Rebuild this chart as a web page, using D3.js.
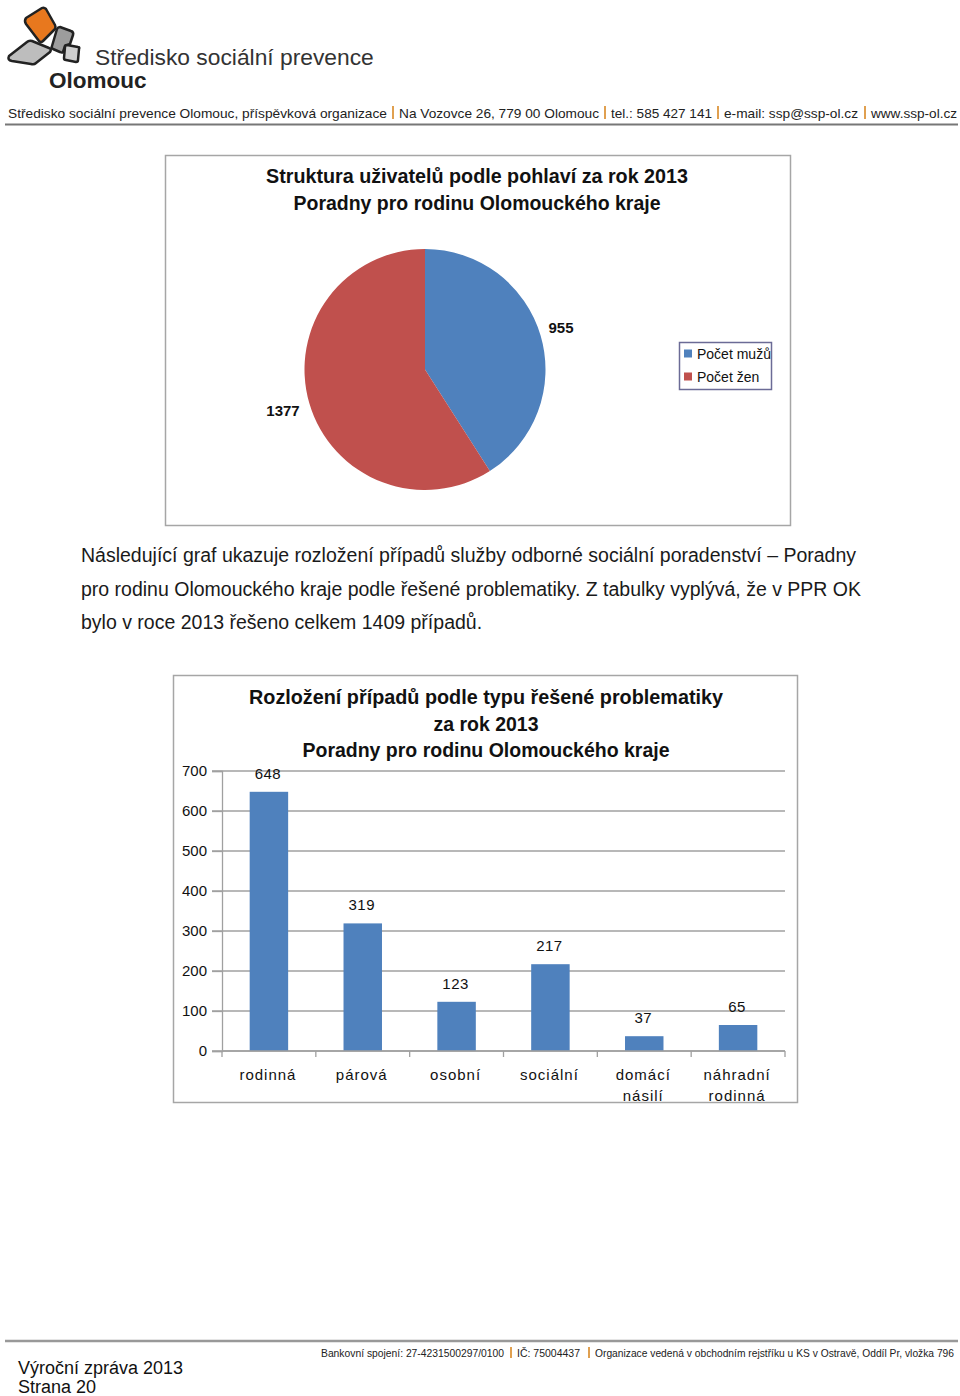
<!DOCTYPE html>
<html><head><meta charset="utf-8">
<script src="https://cdn.jsdelivr.net/npm/d3@7"></script>
<style>body{margin:0;background:#fff}svg{display:block}</style>
</head><body>
<script>
// ---- Data ----
const pieTitle = ["Struktura uživatelů podle pohlaví za rok 2013", "Poradny pro rodinu Olomouckého kraje"];
const pieCategories = ["Počet mužů", "Počet žen"];
const pieValues = [955, 1377];
const pieColors = ["#4f81bd", "#c0504d"];

const barTitle = ["Rozložení případů podle typu řešené problematiky", "za rok 2013", "Poradny pro rodinu Olomouckého kraje"];
const barCategories = [["rodinná"], ["párová"], ["osobní"], ["sociální"], ["domácí", "násilí"], ["náhradní", "rodinná"]];
const barValues = [648, 319, 123, 217, 37, 65];
const yTicks = [0, 100, 200, 300, 400, 500, 600, 700];

const paragraph = [
  "Následující graf ukazuje rozložení případů služby odborné sociální poradenství – Poradny",
  "pro rodinu Olomouckého kraje podle řešené problematiky. Z tabulky vyplývá, že v PPR OK",
  "bylo v roce 2013 řešeno celkem 1409 případů."
];

const W = 960, H = 1396;
const svg = d3.select("body").append("svg").attr("width", W).attr("height", H);
const SANS = "Liberation Sans, Arial, sans-serif";

// ---- Header ----
const logo = svg.append("g");
logo.append("path").attr("d", "M9,56 L27,42 Q29,40 32,41 L49,48 Q52,49 50,52 L36,63 Q34,65 31,64 L12,61 Q7,60 9,56 Z")
  .attr("fill", "#bdbdbd").attr("stroke", "#222").attr("stroke-width", 2.5).attr("stroke-linejoin", "round");
logo.append("path").attr("d", "M26,18 L42,8 Q44,7 46,9 L55,25 Q56,27 55,29 L43,41 Q41,43 39,41 L26,24 Q24,21 26,18 Z")
  .attr("fill", "#e8781e").attr("stroke", "#222").attr("stroke-width", 2.5).attr("stroke-linejoin", "round");
logo.append("path").attr("d", "M60,27 L71,31 Q74,32 73,35 L70,44 L65,46 L63,52 Q62,53 60,52 L53,49 Q51,48 52,46 L57,29 Q58,27 60,27 Z")
  .attr("fill", "#9d9d9d").attr("stroke", "#222").attr("stroke-width", 2.5).attr("stroke-linejoin", "round");
logo.append("path").attr("d", "M67,45 L78,47 Q80,47 79,49 L78,60 Q78,62 76,62 L66,60 Q64,60 64,58 L65,47 Q65,45 67,45 Z")
  .attr("fill", "#cfcfcf").attr("stroke", "#222").attr("stroke-width", 2.5).attr("stroke-linejoin", "round");

svg.append("text").attr("x", 95).attr("y", 65).attr("font-family", SANS).attr("font-size", 22.8)
  .attr("fill", "#333").text("Středisko sociální prevence");
svg.append("text").attr("x", 49).attr("y", 88).attr("font-family", SANS).attr("font-size", 22.5)
  .attr("font-weight", "bold").attr("fill", "#222").text("Olomouc");

// header contact line: parts with orange separators
const headerParts = [
  ["Středisko sociální prevence Olomouc, příspěvková organizace", 8, 387],
  ["Na Vozovce 26, 779 00 Olomouc", 399, 599],
  ["tel.: 585 427 141", 611, 712],
  ["e-mail: ssp@ssp-ol.cz", 724, 858],
  ["www.ssp-ol.cz", 871, 957]
];
headerParts.forEach((p, i) => {
  svg.append("text").attr("x", p[1]).attr("y", 118).attr("font-family", SANS).attr("font-size", 13.2).attr("fill", "#222")
    .attr("textLength", p[2] - p[1]).attr("lengthAdjust", "spacingAndGlyphs").text(p[0]);
  if (i > 0) svg.append("rect").attr("x", p[1] - 7).attr("y", 106).attr("width", 2).attr("height", 13).attr("fill", "#e0a050");
});
svg.append("line").attr("x1", 5).attr("x2", 958).attr("y1", 124.5).attr("y2", 124.5).attr("stroke", "#777").attr("stroke-width", 2);

// ---- Pie chart ----
svg.append("rect").attr("x", 165.5).attr("y", 155.5).attr("width", 625).attr("height", 370)
  .attr("fill", "#fff").attr("stroke", "#a6a6a6").attr("stroke-width", 1.5);
pieTitle.forEach((t, i) => {
  svg.append("text").attr("x", 477).attr("y", 183 + i * 27).attr("text-anchor", "middle")
    .attr("font-family", SANS).attr("font-weight", "bold").attr("font-size", 19.5).attr("fill", "#111")
    .attr("textLength", i === 0 ? 422 : 367).attr("lengthAdjust", "spacingAndGlyphs").text(t);
});
const pieData = d3.pie().sort(null)(pieValues);
const arc = d3.arc().innerRadius(0).outerRadius(120.5);
const pg = svg.append("g").attr("transform", "translate(425,369.5)");
pg.selectAll("path").data(pieData).join("path").attr("d", arc).attr("fill", (d, i) => pieColors[i]);
const pieLabelPos = [[561, 333], [283, 416]];
pieData.forEach((d, i) => {
  svg.append("text").attr("x", pieLabelPos[i][0]).attr("y", pieLabelPos[i][1]).attr("text-anchor", "middle")
    .attr("font-family", SANS).attr("font-weight", "bold").attr("font-size", 15).attr("fill", "#111")
    .text(pieValues[i]);
});
// legend
svg.append("rect").attr("x", 679.5).attr("y", 342.5).attr("width", 92).attr("height", 47)
  .attr("fill", "#fff").attr("stroke", "#6b6b96").attr("stroke-width", 1.5);
pieCategories.forEach((c, i) => {
  svg.append("rect").attr("x", 684).attr("y", 349.5 + i * 23).attr("width", 8).attr("height", 8).attr("fill", pieColors[i]);
  svg.append("text").attr("x", 697).attr("y", 359 + i * 23).attr("font-family", SANS).attr("font-size", 14)
    .attr("fill", "#111").text(c);
});

// ---- Paragraph ----
paragraph.forEach((t, i) => {
  svg.append("text").attr("x", 81).attr("y", 562 + i * 33.7).attr("font-family", SANS).attr("font-size", 19.5)
    .attr("fill", "#1a1a1a").text(t);
});

// ---- Bar chart ----
svg.append("rect").attr("x", 173.5).attr("y", 675.5).attr("width", 624).attr("height", 427)
  .attr("fill", "#fff").attr("stroke", "#a6a6a6").attr("stroke-width", 1.5);
barTitle.forEach((t, i) => {
  svg.append("text").attr("x", 486).attr("y", 704 + i * 26.5).attr("text-anchor", "middle")
    .attr("font-family", SANS).attr("font-weight", "bold").attr("font-size", 20).attr("fill", "#111")
    .attr("textLength", [474, 105, 367][i]).attr("lengthAdjust", "spacingAndGlyphs").text(t);
});
const x = d3.scaleBand().domain(barCategories.map((d, i) => i)).range([222, 785]).paddingInner(0.59).paddingOuter(0.295);
const y = d3.scaleLinear().domain([0, 700]).range([1051, 771]);
const gridG = svg.append("g");
yTicks.forEach(t => {
  gridG.append("line").attr("x1", 212).attr("x2", 785).attr("y1", y(t)).attr("y2", y(t))
    .attr("stroke", "#a0a0a0").attr("stroke-width", 1.3);
});
const yAxis = svg.append("g").attr("transform", "translate(222,0)")
  .call(d3.axisLeft(y).tickValues(yTicks).tickSize(10).tickPadding(5));
yAxis.select(".domain").attr("stroke", "#a0a0a0").attr("stroke-width", 1.3);
yAxis.selectAll(".tick line").attr("stroke", "#a0a0a0").attr("stroke-width", 1.3);
yAxis.selectAll(".tick text").attr("font-family", SANS).attr("font-size", 15).attr("fill", "#111");

svg.selectAll("rect.bar").data(barValues).join("rect").attr("class", "bar")
  .attr("x", (d, i) => x(i)).attr("width", x.bandwidth())
  .attr("y", d => y(d)).attr("height", d => y(0) - y(d)).attr("fill", "#4f81bd");
svg.selectAll("text.val").data(barValues).join("text").attr("class", "val")
  .attr("x", (d, i) => x(i) + x.bandwidth() / 2 - 1).attr("y", d => y(d) - 13)
  .attr("text-anchor", "middle").attr("font-family", SANS).attr("font-size", 15).attr("fill", "#111")
  .attr("letter-spacing", 0.5).text(d => d);

// x axis
svg.append("line").attr("x1", 222).attr("x2", 785).attr("y1", y(0)).attr("y2", y(0)).attr("stroke", "#a0a0a0").attr("stroke-width", 1.3);
d3.range(barCategories.length + 1).forEach(i => {
  const xx = 222 + i * x.step();
  svg.append("line").attr("x1", xx).attr("x2", xx).attr("y1", y(0)).attr("y2", y(0) + 6).attr("stroke", "#a0a0a0").attr("stroke-width", 1.3);
});
barCategories.forEach((lines, i) => {
  lines.forEach((l, j) => {
    svg.append("text").attr("x", x(i) + x.bandwidth() / 2 - 1).attr("y", 1080 + j * 21).attr("text-anchor", "middle")
      .attr("font-family", SANS).attr("font-size", 15).attr("letter-spacing", 1).attr("fill", "#111").text(l);
  });
});

// ---- Footer ----
svg.append("line").attr("x1", 5).attr("x2", 958).attr("y1", 1341).attr("y2", 1341).attr("stroke", "#999").attr("stroke-width", 2.5);
const footParts = [
  ["Bankovní spojení: 27-4231500297/0100", 321, 504],
  ["IČ: 75004437", 517, 580],
  ["Organizace vedená v obchodním rejstříku u KS v Ostravě, Oddíl Pr, vložka 796", 595, 954]
];
footParts.forEach((p, i) => {
  svg.append("text").attr("x", p[1]).attr("y", 1357).attr("font-family", SANS).attr("font-size", 10.2).attr("fill", "#222")
    .attr("textLength", p[2] - p[1]).attr("lengthAdjust", "spacingAndGlyphs").text(p[0]);
  if (i > 0) svg.append("rect").attr("x", p[1] - 7).attr("y", 1347).attr("width", 2).attr("height", 11).attr("fill", "#e0a050");
});
svg.append("text").attr("x", 18).attr("y", 1374).attr("font-family", SANS).attr("font-size", 18).attr("fill", "#111").text("Výroční zpráva 2013");
svg.append("text").attr("x", 18).attr("y", 1393).attr("font-family", SANS).attr("font-size", 18).attr("fill", "#111").text("Strana 20");
</script>
</body></html>
